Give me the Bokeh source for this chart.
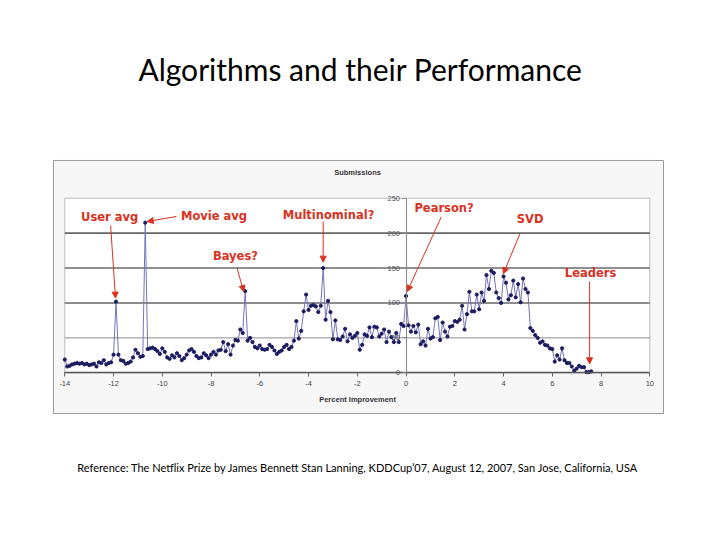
from bokeh.plotting import figure
from bokeh.models import Range1d, Label, Arrow, NormalHead, FixedTicker, ColumnDataSource
from bokeh.embed import file_html
from bokeh.resources import INLINE

# ---------------- data ----------------
bin_start = -14.0
bin_width = 0.1
submissions = [
    19, 9, 10, 12, 13, 14, 13, 14, 12, 13,
    11, 12, 13, 9, 15, 14, 18, 12, 14, 15,
    26, 102, 26, 18, 17, 13, 14, 16, 22, 33,
    28, 23, 24, 215, 34, 35, 36, 34, 31, 27,
    35, 30, 22, 20, 25, 22, 28, 24, 18, 21,
    26, 32, 34, 30, 24, 21, 22, 28, 25, 21,
    26, 30, 26, 32, 33, 44, 31, 41, 26, 39,
    47, 46, 62, 57, 117, 46, 50, 44, 37, 35,
    39, 34, 33, 34, 40, 37, 32, 27, 30, 32,
    37, 40, 34, 37, 46, 74, 49, 60, 88, 112,
    90, 96, 97, 95, 87, 96, 150, 76, 103, 87,
    48, 75, 48, 47, 52, 63, 45, 55, 50, 53,
    57, 33, 40, 55, 53, 65, 51, 66, 65, 52,
    56, 62, 44, 59, 51, 44, 57, 44, 70, 67,
    110, 68, 59, 67, 58, 69, 41, 45, 39, 63,
    49, 51, 78, 80, 47, 72, 59, 52, 66, 67,
    74, 73, 76, 96, 62, 84, 116, 88, 88, 112,
    91, 115, 103, 140, 120, 146, 143, 115, 107, 100,
    138, 129, 105, 111, 132, 108, 127, 101, 135, 120,
    115, 64, 60, 54, 50, 43, 45, 40, 39, 35,
    34, 16, 25, 19, 35, 18, 14, 14, 9, 3,
    6, 10, 8, 8, 1, 1, 2,
]
percent = [round(bin_start + bin_width * i, 1) for i in range(len(submissions))]

x_ticks = [-14, -12, -10, -8, -6, -4, -2, 0, 2, 4, 6, 8, 10]
y_ticks = [0, 50, 100, 150, 200, 250]
grid_levels = [50, 100, 150, 200]

title_text = "Algorithms and their Performance"
footer_text = ("Reference: The Netflix Prize by James Bennett Stan Lanning, KDDCup\u201907, "
               "August 12, 2007, San Jose, California, USA")
y_title = "Submissions"
x_title = "Percent Improvement"

algo_names = ["User avg", "Movie avg", "Multinominal?", "Bayes?", "Pearson?", "SVD", "Leaders"]
algo_text_x = [-12.16, -7.88, -3.18, -7.00, 1.56, 5.09, 7.57]
algo_text_y = [223.6, 223.8, 226.6, 167.0, 235.3, 219.5, 142.2]
arrow_start_x = [-12.12, -9.42, -3.40, -6.93, 1.44, 4.67, 7.53]
arrow_start_y = [210.9, 223.8, 216.7, 149.3, 222.8, 199.0, 130.7]
arrow_end_x = [-11.92, -10.62, -3.40, -6.66, 0.05, 3.99, 7.53]
arrow_end_y = [107.0, 216.6, 158.4, 116.4, 116.4, 141.8, 12.9]

# outer box of the embedded chart picture (in chart units)
chart_box = dict(left=-14.464, right=10.562, bottom=-58.3, top=304.0)

# ---------------- figure ----------------
RED = "#d8321e"
p = figure(width=704, height=524, output_backend="svg", toolbar_location=None,
           x_range=Range1d(-16.638, 12.244), y_range=Range1d(-217.21, 533.07),
           min_border_left=0, min_border_right=0, min_border_top=0, min_border_bottom=0)
p.border_fill_color = "white"
p.background_fill_color = "white"
p.outline_line_color = None
p.xgrid.visible = False
p.ygrid.visible = False

# chart picture background box
p.quad(left=[chart_box["left"]], right=[chart_box["right"]],
       bottom=[chart_box["bottom"]], top=[chart_box["top"]],
       fill_color="#f7f7f7", line_color="#9a9a9a", line_width=1)
# plot area
p.quad(left=[x_ticks[0]], right=[x_ticks[-1]], bottom=[y_ticks[0]], top=[y_ticks[-1]],
       fill_color="white", line_color="#bdbdbd", line_width=1)
# gridlines
p.segment(x0=[x_ticks[0]] * len(grid_levels), x1=[x_ticks[-1]] * len(grid_levels),
          y0=grid_levels, y1=grid_levels,
          line_color=["#8c8c8c", "#666666", "#6a6a6a", "#666666"],
          line_width=[1, 1.6, 1.6, 1.6])

# axes
p.xaxis.fixed_location = 0
p.xaxis.bounds = (x_ticks[0], x_ticks[-1])
p.xaxis.ticker = FixedTicker(ticks=x_ticks)
p.xaxis.major_label_overrides = {t: str(t) for t in x_ticks}
p.xaxis.axis_line_color = "#555555"
p.xaxis.axis_line_width = 1.5
p.xaxis.major_tick_line_color = "#666666"
p.xaxis.major_tick_out = 4
p.xaxis.major_tick_in = 0
p.xaxis.minor_tick_line_color = None
p.xaxis.major_label_text_font = "Liberation Sans"
p.xaxis.major_label_text_font_size = "7.5px"
p.xaxis.major_label_text_color = "#444444"
p.xaxis.major_label_standoff = 4

p.yaxis.fixed_location = 0
p.yaxis.bounds = (y_ticks[0], y_ticks[-1])
p.yaxis.ticker = FixedTicker(ticks=y_ticks)
p.yaxis.axis_line_color = "#888888"
p.yaxis.major_tick_line_color = "#888888"
p.yaxis.major_tick_out = 4
p.yaxis.major_tick_in = 0
p.yaxis.minor_tick_line_color = None
p.yaxis.major_label_text_font = "Liberation Sans"
p.yaxis.major_label_text_font_size = "7.5px"
p.yaxis.major_label_text_color = "#555555"
p.yaxis.major_label_standoff = 2

# series
src = ColumnDataSource(dict(x=percent, y=submissions))
p.line("x", "y", source=src, line_color="#7474bc", line_width=1)
p.scatter("x", "y", source=src, size=3.2, marker="circle",
          fill_color="#1b1b60", line_color="#1b1b60")

# annotations
for name, tx, ty, sx, sy, ex, ey in zip(algo_names, algo_text_x, algo_text_y,
                                         arrow_start_x, arrow_start_y, arrow_end_x, arrow_end_y):
    p.add_layout(Arrow(x_start=sx, y_start=sy, x_end=ex, y_end=ey,
                       line_color=RED, line_width=1,
                       end=NormalHead(size=6, fill_color=RED, line_color=RED)))
    p.add_layout(Label(x=tx, y=ty, text=name, text_font="DejaVu Sans", text_font_style="bold",
                       text_font_size="11.5px", text_color=RED,
                       text_align="center", text_baseline="middle"))

p.add_layout(Label(x=-1.99, y=286.8, text=y_title, text_font="Liberation Sans",
                   text_font_style="bold", text_font_size="7.5px", text_color="#333333",
                   text_align="center", text_baseline="middle"))
p.add_layout(Label(x=-1.99, y=-38.1, text=x_title, text_font="Liberation Sans",
                   text_font_style="bold", text_font_size="7.5px", text_color="#333333",
                   text_align="center", text_baseline="middle"))

# slide title and footer
p.add_layout(Label(x=-1.87, y=434.3, text=title_text, text_font="Lato",
                   text_font_size="30px", text_color="#000000",
                   text_align="center", text_baseline="middle"))
p.add_layout(Label(x=-1.97, y=-135.6, text=footer_text, text_font="Lato",
                   text_font_size="11px", text_color="#000000",
                   text_align="center", text_baseline="middle"))

open("out.html", "w").write(file_html(p, INLINE))
